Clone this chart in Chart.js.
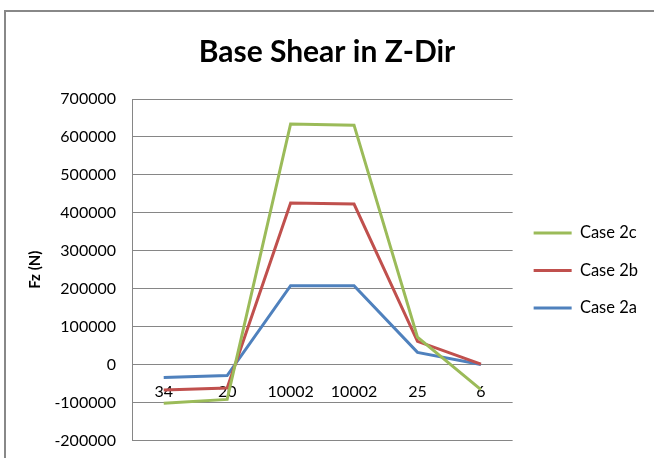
<!DOCTYPE html>
<html>
<head>
<meta charset="utf-8">
<script src="https://cdn.jsdelivr.net/npm/chart.js@4.4.1/dist/chart.umd.min.js"></script>
<style>
  html, body { margin: 0; padding: 0; background: #fff; }
  #wrap { width: 654px; height: 458px; position: relative; }
</style>
</head>
<body>
<div id="wrap"><canvas id="myChart"></canvas></div>
<script>
// Kategorien (x-Achse) und Werte der drei Lastfälle
const categories = ['34', '20', '10002', '10002', '25', '6'];
const case2c = [-102000, -92000, 634000, 631000, 72000, -66000];
const case2b = [-67000, -62000, 426000, 423000, 61000, 1000];
const case2a = [-34000, -29000, 208000, 208000, 32000, 0];
const seriesNames = ['Case 2c', 'Case 2b', 'Case 2a'];
const yTicks = [-200000, -100000, 0, 100000, 200000, 300000, 400000, 500000, 600000, 700000];

const FONT = 'Lato, "Open Sans", sans-serif';
const GRID = '#868686';

// Rahmen um das Diagramm (wie im Excel-Export)
const frame = {
    id: 'frame',
    beforeDraw(chart) {
        const c = chart.ctx;
        c.save();
        c.fillStyle = '#fff';
        c.fillRect(0, 0, chart.width, chart.height);
        c.strokeStyle = '#888';
        c.lineWidth = 2;
        c.strokeRect(5, 11, chart.width + 20, chart.height + 20);
        c.restore();
    }
};

const ctx = document.getElementById('myChart').getContext('2d');
new Chart(ctx, {
    type: 'line',
    data: {
        labels: categories,
        datasets: [
            { label: seriesNames[0], data: case2c, borderColor: '#9BBB59', backgroundColor: '#9BBB59' },
            { label: seriesNames[1], data: case2b, borderColor: '#C0504D', backgroundColor: '#C0504D' },
            { label: seriesNames[2], data: case2a, borderColor: '#4F81BD', backgroundColor: '#4F81BD' }
        ].map(ds => Object.assign(ds, { borderWidth: 3, pointRadius: 0, tension: 0, fill: false }))
    },
    plugins: [frame],
    options: {
        responsive: true,
        maintainAspectRatio: false,
        animation: false,
        layout: { padding: { left: 6, right: 6, top: 0, bottom: 10 } },
        plugins: {
            title: {
                display: true,
                text: 'Base Shear in Z-Dir',
                color: '#000',
                font: { family: FONT, size: 30, weight: 'bold' },
                padding: { top: 34, bottom: 29 }
            },
            legend: {
                position: 'right',
                // leerer Titel schiebt die Legende nach unten (wie in Excel)
                title: { display: true, text: '', font: { size: 10 }, padding: { top: 81, bottom: 0 } },
                labels: {
                    color: '#000',
                    font: { family: FONT, size: 16.5 },
                    usePointStyle: true,
                    pointStyle: 'line',
                    pointStyleWidth: 38,
                    padding: 21
                }
            },
            tooltip: { enabled: false }
        },
        scales: {
            x: {
                type: 'category',
                offset: true,
                position: { y: 0 },
                grid: { display: false, drawTicks: false },
                border: { display: false },
                ticks: { color: '#000', font: { family: FONT, size: 16 }, padding: 18, maxRotation: 0, autoSkip: false }
            },
            y: {
                min: yTicks[0],
                max: yTicks[yTicks.length - 1],
                afterBuildTicks: (scale) => { scale.ticks = yTicks.map(v => ({ value: v })); },
                afterFit: (scale) => { scale.width = 126; },
                grid: { color: GRID, drawTicks: true, tickLength: 8, tickColor: 'rgba(0,0,0,0)' },
                border: { display: true, color: GRID },
                ticks: {
                    color: '#000',
                    font: { family: FONT, size: 16 },
                    padding: 8,
                    callback: (v) => String(v)
                },
                title: {
                    display: true,
                    text: 'Fz (N)',
                    color: '#000',
                    font: { family: FONT, size: 15, weight: 'bold' },
                    padding: { top: 20, bottom: 0 }
                }
            }
        }
    }
});
</script>
</body>
</html>
